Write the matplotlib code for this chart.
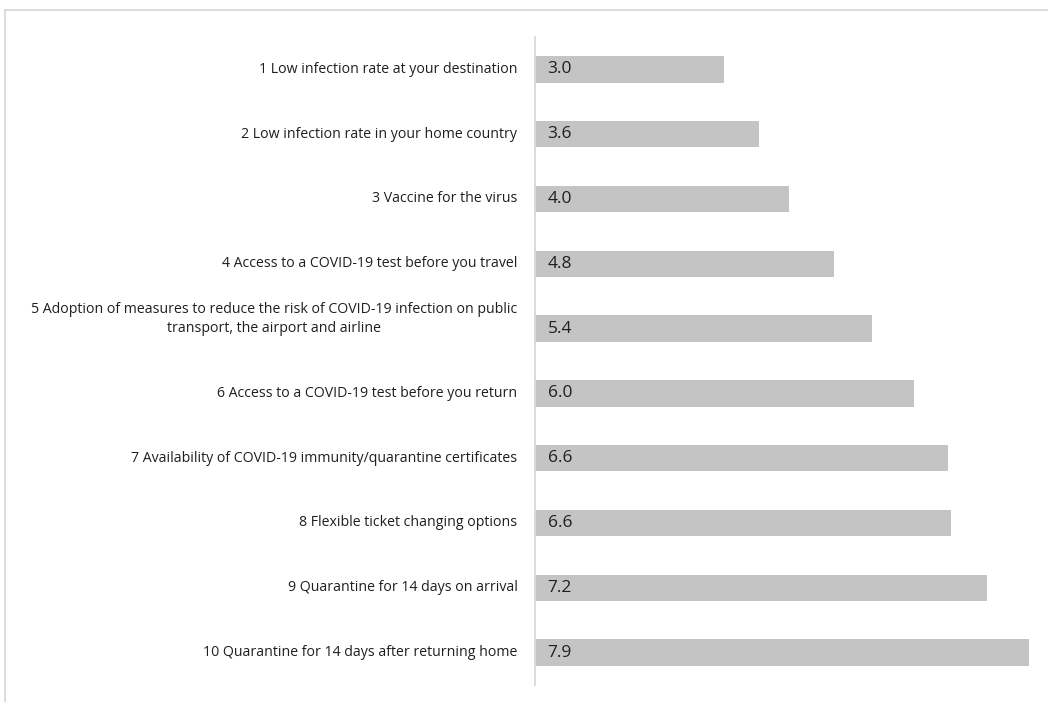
import matplotlib.pyplot as plt
from matplotlib.patches import Rectangle

labels = [
    "1 Low infection rate at your destination",
    "2 Low infection rate in your home country",
    "3 Vaccine for the virus",
    "4 Access to a COVID-19 test before you travel",
    "5 Adoption of measures to reduce the risk of COVID-19 infection on public\ntransport, the airport and airline",
    "6 Access to a COVID-19 test before you return",
    "7 Availability of COVID-19 immunity/quarantine certificates",
    "8 Flexible ticket changing options",
    "9 Quarantine for 14 days on arrival",
    "10 Quarantine for 14 days after returning home",
]
values = [3.02, 3.58, 4.06, 4.78, 5.38, 6.05, 6.60, 6.65, 7.22, 7.89]
value_text = ["3.0", "3.6", "4.0", "4.8", "5.4", "6.0", "6.6", "6.6", "7.2", "7.9"]

plt.rcParams['font.family'] = ['Open Sans', 'DejaVu Sans']

fig = plt.figure(figsize=(10.48, 7.02), dpi=100)
ax = fig.add_axes([535 / 1048, 1 - 685 / 702, 500 / 1048, 648 / 702])

pos = list(range(len(labels)))
ax.barh(pos, values, height=0.41, color='#C4C4C4', zorder=2)
ax.set_ylim(9.5, -0.5)
ax.set_xlim(0, 7.99)

for i, (v, t) in enumerate(zip(values, value_text)):
    ax.text(0.2, i, t, va='center', ha='left', fontsize=12.5, color='#1f1f1f')

ax.set_yticks(pos)
ax.set_yticklabels([])
for i, lab in enumerate(labels):
    dy = -0.15 if "\n" in lab else 0
    ax.text(-0.28, i + dy, lab, ha='right', va='center', multialignment='center',
            fontsize=10.2, color='#1f1f1f', linespacing=1.4)

ax.tick_params(left=False, bottom=False, labelbottom=False)
for s in ['top', 'right', 'bottom']:
    ax.spines[s].set_visible(False)
ax.spines['left'].set_color('#D9D9D9')
ax.spines['left'].set_linewidth(1.3)

fig.patches.append(Rectangle((5 / 1048, -0.1), 1.2, 1 - 10 / 702 + 0.1,
                             transform=fig.transFigure, fill=False,
                             edgecolor='#D9D9D9', linewidth=1.3))

fig.savefig('out.png', dpi=100)
